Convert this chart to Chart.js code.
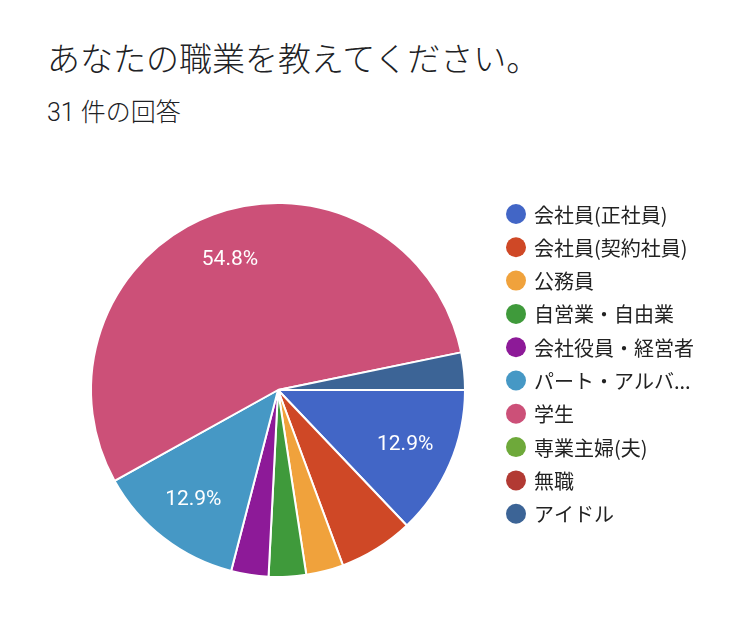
<!DOCTYPE html>
<html>
<head>
<meta charset="utf-8">
<script src="https://cdn.jsdelivr.net/npm/chart.js@4/dist/chart.umd.min.js"></script>
<style>
  html, body { margin: 0; padding: 0; background: #fff; }
  body { width: 750px; height: 641px; position: relative; overflow: hidden;
         font-family: "Noto Sans CJK JP", "Noto Sans", sans-serif; color: #202124; }
  #title { position: absolute; left: 47px; top: 35px; font-size: 33px; font-weight: 300; line-height: 44px; white-space: nowrap; }
  #sub { position: absolute; left: 47px; top: 97px; font-size: 25px; font-weight: 300; line-height: 32px; white-space: nowrap;
         font-family: Roboto, "Noto Sans CJK JP", sans-serif; }
  #wrap { position: absolute; left: 0; top: 0; width: 750px; height: 641px; }
</style>
</head>
<body>
<div id="title">あなたの職業を教えてください。</div>
<div id="sub">31 件の回答</div>
<div id="wrap"><canvas id="c" width="750" height="641"></canvas></div>
<script>
const categories = ["会社員(正社員)", "会社員(契約社員)", "公務員", "自営業・自由業", "会社役員・経営者", "パート・アルバ...", "学生", "専業主婦(夫)", "無職", "アイドル"];
const counts = [4, 2, 1, 1, 1, 4, 17, 0, 0, 1];
const colors = ["#4266c6", "#cf4826", "#f0a23c", "#3f9a3b", "#8d1a98", "#4698c5", "#cc5078", "#6ea93a", "#b23a33", "#3c6496"];

const sliceLabels = {
  id: 'sliceLabels',
  afterDatasetsDraw(chart) {
    const ctx = chart.ctx;
    const meta = chart.getDatasetMeta(0);
    const data = chart.data.datasets[0].data;
    const total = data.reduce((a, b) => a + b, 0);
    ctx.save();
    ctx.fillStyle = '#ffffff';
    ctx.font = '21px Roboto, "Noto Sans", sans-serif';
    ctx.textAlign = 'center';
    ctx.textBaseline = 'middle';
    meta.data.forEach((arc, i) => {
      const frac = data[i] / total;
      if (frac < 0.1) return;
      const p = arc.getProps(['x', 'y', 'startAngle', 'endAngle', 'outerRadius'], true);
      const mid = (p.startAngle + p.endAngle) / 2;
      const r = p.outerRadius * 0.74;
      ctx.fillText((frac * 100).toFixed(1) + '%', p.x + Math.cos(mid) * r, p.y + Math.sin(mid) * r);
    });
    ctx.restore();
  }
};

const customLegend = {
  id: 'customLegend',
  afterDraw(chart) {
    const ctx = chart.ctx;
    const labels = chart.data.labels;
    const bg = chart.data.datasets[0].backgroundColor;
    ctx.save();
    ctx.font = '20px "Noto Sans CJK JP", sans-serif';
    ctx.textBaseline = 'middle';
    ctx.textAlign = 'left';
    labels.forEach((lab, i) => {
      const y = 214 + i * 33.3;
      ctx.beginPath();
      ctx.arc(516, y, 10, 0, Math.PI * 2);
      ctx.fillStyle = bg[i];
      ctx.fill();
      ctx.fillStyle = '#222222';
      ctx.fillText(lab, 534, y + 1);
    });
    ctx.restore();
  }
};

new Chart(document.getElementById('c'), {
  type: 'pie',
  data: {
    labels: categories,
    datasets: [{
      data: counts,
      backgroundColor: colors,
      borderColor: '#ffffff',
      borderWidth: 2
    }]
  },
  options: {
    responsive: false,
    animation: false,
    rotation: 90,
    layout: { padding: { left: 90, top: 202, right: 284, bottom: 63 } },
    plugins: {
      legend: { display: false },
      tooltip: { enabled: false }
    }
  },
  plugins: [sliceLabels, customLegend]
});
</script>
</body>
</html>
